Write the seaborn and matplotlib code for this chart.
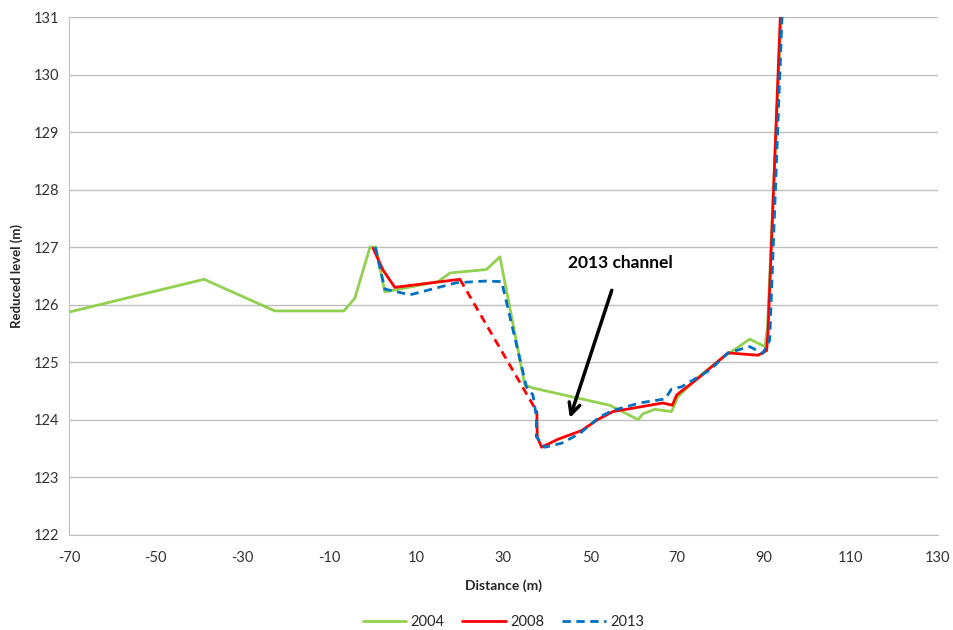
import numpy as np
import pandas as pd
import matplotlib
matplotlib.use("Agg")
import matplotlib.pyplot as plt
import seaborn as sns

# -------------------------------------------------
# Datos
# -------------------------------------------------
x_2004 = [-70, -38.9, -22.6, -6.7, -4.2, -0.7, 0.65, 2.7, 15.0, 17.7, 26.1, 29.2,
          34.95, 36.8, 54.5, 61.0, 62.1, 64.9, 68.7, 70.2, 75.0, 80.0, 86.7, 90.2, 90.8, 94.2]
y_2004 = [125.87, 126.44, 125.89, 125.89, 126.11, 127.0, 127.0, 126.22, 126.4, 126.55, 126.61, 126.83,
          124.6, 124.55, 124.25, 124.0, 124.1, 124.18, 124.14, 124.4, 124.75, 125.05, 125.4, 125.27, 125.6, 131.5]

x_2008a = [0.0, 2.3, 5.0, 20.0]
y_2008a = [126.98, 126.6, 126.3, 126.44]
x_2008_gap = [20.0, 37.7]
y_2008_gap = [126.44, 124.14]
x_2008b = [37.7, 37.8, 38.8, 42.6, 48.0, 51.7, 55.2, 66.7, 68.9, 69.9, 75.0, 81.7, 88.6, 90.6, 90.9, 94.0]
y_2008b = [124.14, 123.7, 123.52, 123.66, 123.81, 124.0, 124.14, 124.29, 124.25, 124.43, 124.73, 125.16,
           125.12, 125.2, 125.5, 131.5]

x_2013 = [0.5, 2.7, 8.5, 19.2, 26.1, 29.6, 35.3, 36.8, 37.6, 37.6, 39.5, 43.4, 47.6, 52.2, 55.2,
          61.4, 67.2, 68.7, 71.0, 77.5, 81.7, 86.7, 89.7, 91.3, 94.4]
y_2013 = [127.0, 126.27, 126.17, 126.38, 126.41, 126.4, 124.57, 124.43, 124.05, 123.7, 123.52, 123.59,
          123.76, 124.05, 124.16, 124.29, 124.36, 124.53, 124.57, 124.86, 125.16, 125.27, 125.15, 125.38, 131.5]

x_ticks = list(range(-70, 131, 20))
y_ticks = list(range(122, 132))

VERDE = "#92D050"
ROJO = "#FF0000"
AZUL = "#0070C0"

# -------------------------------------------------
# Figura
# -------------------------------------------------
sns.set_style("white")
plt.rcParams["font.family"] = ["Lato", "DejaVu Sans"]
plt.rcParams["axes.unicode_minus"] = False

fig = plt.figure(figsize=(9.54, 6.30), dpi=100)
ax = fig.add_axes([0.0723, 0.1513, 0.9107, 0.8217])

sns.lineplot(x=x_2004, y=y_2004, sort=False, estimator=None, color=VERDE, lw=2, ax=ax, label="2004")
sns.lineplot(x=x_2008a, y=y_2008a, sort=False, estimator=None, color=ROJO, lw=2, ax=ax, label="2008")
sns.lineplot(x=x_2008_gap, y=y_2008_gap, sort=False, estimator=None, color=ROJO, lw=2,
             linestyle=(0, (3, 2)), ax=ax)
sns.lineplot(x=x_2008b, y=y_2008b, sort=False, estimator=None, color=ROJO, lw=2, ax=ax)
sns.lineplot(x=x_2013, y=y_2013, sort=False, estimator=None, color=AZUL, lw=2,
             linestyle=(0, (3, 2)), ax=ax, label="2013")

ax.set_xlim(-70, 130)
ax.set_ylim(122, 131)
ax.set_xticks(x_ticks)
ax.set_yticks(y_ticks)
ax.grid(axis="y", color="#BFBFBF", lw=1)
ax.set_axisbelow(True)
for s in ["top", "right"]:
    ax.spines[s].set_visible(False)
for s in ["left", "bottom"]:
    ax.spines[s].set_color("#BFBFBF")
ax.tick_params(axis="both", length=4, color="#BFBFBF", labelsize=10.5, labelcolor="#333333", pad=3)
ax.tick_params(axis="x", pad=8)

ax.set_xlabel("Distance (m)", fontsize=10, fontweight="bold", labelpad=10)
ax.set_ylabel("Reduced level (m)", fontsize=9.5, fontweight="bold", labelpad=8)

ax.annotate("2013 channel", xy=(45.3, 124.03), xytext=(57.0, 126.72),
            fontsize=12.5, fontweight="bold", ha="center", va="center", color="black",
            arrowprops=dict(arrowstyle="->", color="black", lw=2.5, mutation_scale=20,
                            shrinkA=12, shrinkB=0))

ax.legend(loc="upper center", bbox_to_anchor=(0.5, -0.13), ncol=3, frameon=False,
          fontsize=10.5, handlelength=3, columnspacing=1.2, handletextpad=0.3)

fig.savefig("out.png", dpi=100)
